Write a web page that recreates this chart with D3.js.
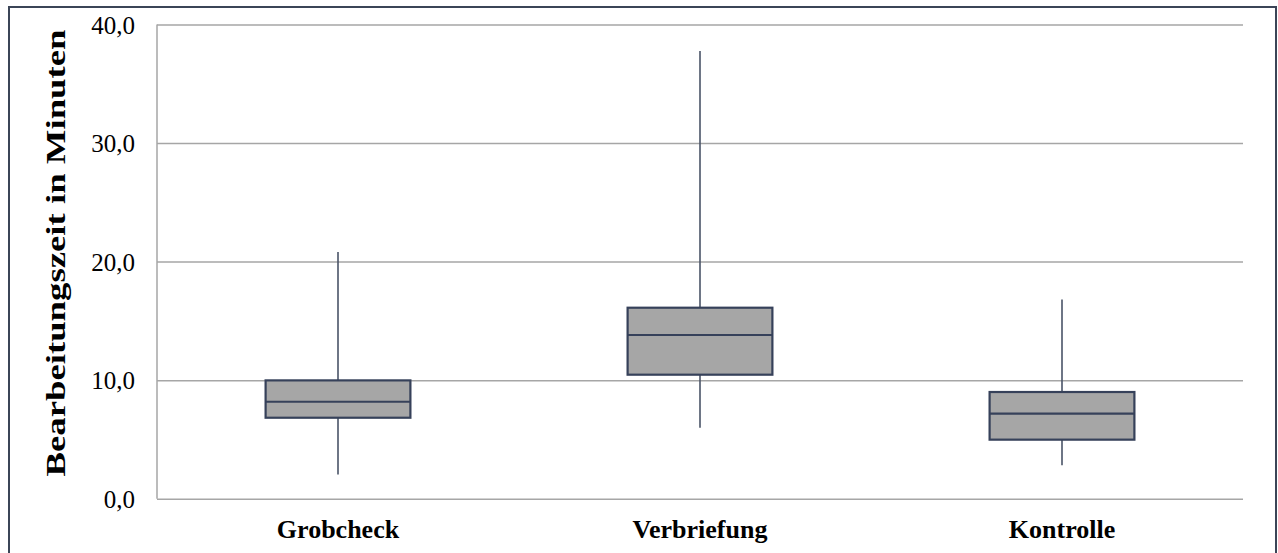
<!DOCTYPE html>
<html>
<head>
<meta charset="utf-8">
<script src="https://cdn.jsdelivr.net/npm/d3@7"></script>
<style>
  html, body { margin: 0; padding: 0; background: #fff; }
  svg { display: block; }
  text { font-family: 'Liberation Serif', 'Times New Roman', serif; }
</style>
</head>
<body>
<svg id="chart" width="1278" height="553"></svg>
<script>
const categories = ["Grobcheck", "Verbriefung", "Kontrolle"];
const whiskerLow = [2.05, 5.98, 2.82];
const q1 = [6.83, 10.46, 4.98];
const median = [8.18, 13.81, 7.17];
const q3 = [9.98, 16.11, 9.0];
const whiskerHigh = [20.8, 37.77, 16.8];
const yTicks = [0, 10, 20, 30, 40];
const yTitle = "Bearbeitungszeit in Minuten";

(function () {
const svg = d3.select("#chart");
const pLeft = 157, pRight = 1243, pTop = 24.5, pBottom = 498.7;
const serif = "'Liberation Serif', 'Times New Roman', serif";

// outer frame
svg.append("rect")
  .attr("x", 9).attr("y", 7)
  .attr("width", 1267).attr("height", 560)
  .attr("fill", "none")
  .attr("stroke", "#3b4557")
  .attr("stroke-width", 2);

const x = d3.scaleBand().domain(categories).range([pLeft, pRight]).padding(0);
const y = d3.scaleLinear().domain([0, 40]).range([pBottom, pTop]);

// gridlines + y labels
const yAxis = d3.axisLeft(y)
  .tickValues(yTicks)
  .tickSize(-(pRight - pLeft))
  .tickPadding(22)
  .tickFormat(d => d.toFixed(1).replace(".", ","));

const gy = svg.append("g").attr("transform", `translate(${pLeft},0)`).call(yAxis);
gy.attr("font-family", null).attr("font-size", null);
gy.select(".domain").remove();
gy.selectAll(".tick line")
  .attr("stroke", "#a6a6a6")
  .attr("stroke-width", 1.5);
gy.selectAll(".tick text")
  .style("font-family", serif)
  .style("font-size", "25px")
  .attr("fill", "#000")
  .attr("dy", "0.34em");

// left axis line
svg.append("line")
  .attr("x1", pLeft).attr("x2", pLeft)
  .attr("y1", pTop).attr("y2", pBottom)
  .attr("stroke", "#a6a6a6")
  .attr("stroke-width", 1.5);

// category labels
const gx = svg.append("g").attr("transform", `translate(0,${pBottom})`)
  .call(d3.axisBottom(x).tickSize(0).tickPadding(0));
gx.attr("font-family", null).attr("font-size", null);
gx.select(".domain").remove();
gx.selectAll(".tick text")
  .style("font-family", serif)
  .style("font-weight", "bold")
  .style("font-size", "26px")
  .attr("fill", "#000")
  .attr("y", 39.5)
  .attr("dy", 0);

// boxes
const bw = x.bandwidth() * 0.4;
const data = categories.map((c, i) => ({
  c, lo: whiskerLow[i], q1: q1[i], med: median[i], q3: q3[i], hi: whiskerHigh[i]
}));
const g = svg.append("g");
const cx = d => x(d.c) + x.bandwidth() / 2;

g.selectAll("line.wh-up").data(data).join("line")
  .attr("class", "wh-up")
  .attr("x1", cx).attr("x2", cx)
  .attr("y1", d => y(d.hi)).attr("y2", d => y(d.q3))
  .attr("stroke", "#4a5467").attr("stroke-width", 1.6);
g.selectAll("line.wh-lo").data(data).join("line")
  .attr("class", "wh-lo")
  .attr("x1", cx).attr("x2", cx)
  .attr("y1", d => y(d.q1)).attr("y2", d => y(d.lo))
  .attr("stroke", "#4a5467").attr("stroke-width", 1.6);

g.selectAll("rect.box").data(data).join("rect")
  .attr("class", "box")
  .attr("x", d => cx(d) - bw / 2)
  .attr("width", bw)
  .attr("y", d => y(d.q3))
  .attr("height", d => y(d.q1) - y(d.q3))
  .attr("fill", "#a6a6a6")
  .attr("stroke", "#36415a")
  .attr("stroke-width", 2.2);

g.selectAll("line.med").data(data).join("line")
  .attr("class", "med")
  .attr("x1", d => cx(d) - bw / 2).attr("x2", d => cx(d) + bw / 2)
  .attr("y1", d => y(d.med)).attr("y2", d => y(d.med))
  .attr("stroke", "#36415a").attr("stroke-width", 2.2);

// y title
svg.append("text")
  .attr("transform", `translate(65,253) rotate(-90)`)
  .attr("text-anchor", "middle")
  .style("font-family", serif)
  .style("font-weight", "bold")
  .style("font-size", "27px")
  .attr("textLength", 447)
  .attr("lengthAdjust", "spacingAndGlyphs")
  .attr("fill", "#000")
  .text(yTitle);
})();
</script>
</body>
</html>
